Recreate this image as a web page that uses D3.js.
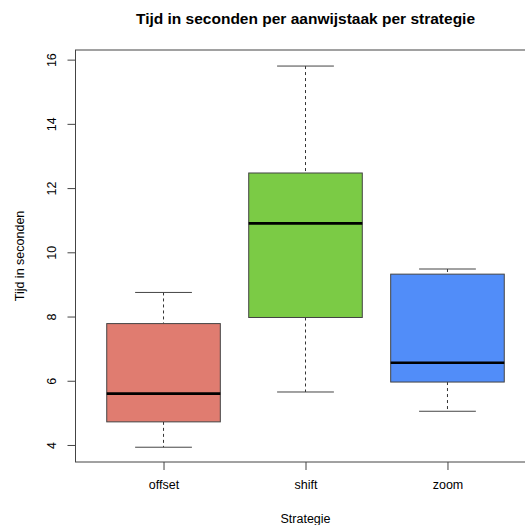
<!DOCTYPE html>
<html lang="nl">
  <head>
    <meta charset="UTF-8" />
    <title>Tijd in seconden per aanwijstaak per strategie</title>
    <style>
      body { margin: 0; background: #fff; }
      text { font-family: "Liberation Sans", Arial, Helvetica, sans-serif; fill: #000; }
    </style>
  </head>
  <body>
    <svg width="525" height="525"></svg>
    <script src="https://cdnjs.cloudflare.com/ajax/libs/d3/7.8.5/d3.min.js"></script>
    <script>
      // waarden
      const categories = ["offset", "shift", "zoom"];
      const lowWhisker = [3.93, 5.65, 5.05];
      const q1 = [4.72, 7.97, 5.96];
      const median = [5.6, 10.9, 6.56];
      const q3 = [7.78, 12.47, 9.32];
      const highWhisker = [8.75, 15.8, 9.48];
      const colors = ["#e07c70", "#7bcb45", "#518df9"];
      const yTicks = [4, 6, 8, 10, 12, 14, 16];

      const svg = d3.select("svg");
      const mLeft = 75.5, mRight = 535.5, mTop = 50, mBottom = 462;

      const x = d3.scaleLinear().domain([0.38, 3.62]).range([mLeft, mRight]);
      const y = d3.scaleLinear().domain([3.47, 16.3]).range([mBottom, mTop]);
      const boxW = x(1.4) - x(1);   // helft van boxwex 0.8
      const capW = boxW / 2;

      const data = categories.map((c, i) => ({
        name: c, pos: i + 1, lo: lowWhisker[i], q1: q1[i], med: median[i],
        q3: q3[i], hi: highWhisker[i], color: colors[i]
      }));

      const g = svg.append("g");
      const box = g.selectAll("g.box").data(data).enter().append("g").attr("class", "box");

      // snorharen
      box.append("line")
        .attr("x1", d => x(d.pos)).attr("x2", d => x(d.pos))
        .attr("y1", d => y(d.hi)).attr("y2", d => y(d.q3))
        .attr("stroke", "#333").attr("stroke-dasharray", "3,3");
      box.append("line")
        .attr("x1", d => x(d.pos)).attr("x2", d => x(d.pos))
        .attr("y1", d => y(d.q1)).attr("y2", d => y(d.lo))
        .attr("stroke", "#333").attr("stroke-dasharray", "3,3");
      box.append("line")
        .attr("x1", d => x(d.pos) - capW).attr("x2", d => x(d.pos) + capW)
        .attr("y1", d => y(d.hi)).attr("y2", d => y(d.hi))
        .attr("stroke", "#444");
      box.append("line")
        .attr("x1", d => x(d.pos) - capW).attr("x2", d => x(d.pos) + capW)
        .attr("y1", d => y(d.lo)).attr("y2", d => y(d.lo))
        .attr("stroke", "#444");

      box.append("rect")
        .attr("x", d => x(d.pos) - boxW).attr("width", 2 * boxW)
        .attr("y", d => y(d.q3)).attr("height", d => y(d.q1) - y(d.q3))
        .attr("fill", d => d.color).attr("stroke", "#444").attr("stroke-width", 1);

      box.append("line")
        .attr("x1", d => x(d.pos) - boxW).attr("x2", d => x(d.pos) + boxW)
        .attr("y1", d => y(d.med)).attr("y2", d => y(d.med))
        .attr("stroke", "#000").attr("stroke-width", 2.6);

      // kader
      svg.append("rect")
        .attr("x", mLeft).attr("y", mTop)
        .attr("width", mRight - mLeft).attr("height", mBottom - mTop)
        .attr("fill", "none").attr("stroke", "#444");

      // y-as
      const yAxis = svg.append("g")
        .attr("transform", `translate(${mLeft},0)`)
        .call(d3.axisLeft(y).tickValues(yTicks).tickSize(8).tickPadding(0));
      yAxis.select(".domain").attr("d", `M0,${y(4)}V${y(16)}`).attr("stroke", "#444");
      yAxis.selectAll(".tick line").attr("stroke", "#444");
      yAxis.selectAll(".tick text")
        .attr("x", 0).attr("dy", null)
        .attr("transform", "translate(-24,0) rotate(-90)")
        .attr("text-anchor", "middle")
        .attr("dominant-baseline", "central")
        .style("font-size", "12.5px")
        .style("font-family", "'Liberation Sans', Arial, sans-serif");

      // x-as
      const xAxis = svg.append("g")
        .attr("transform", `translate(0,${mBottom})`)
        .call(d3.axisBottom(x).tickValues([1, 2, 3]).tickSize(8).tickPadding(10)
          .tickFormat(d => categories[d - 1]));
      xAxis.select(".domain").remove();
      xAxis.selectAll(".tick line").attr("stroke", "#444");
      xAxis.selectAll(".tick text")
        .style("font-size", "12.5px")
        .style("font-family", "'Liberation Sans', Arial, sans-serif");

      svg.append("text")
        .attr("x", (mLeft + mRight) / 2).attr("y", 18)
        .attr("text-anchor", "middle").attr("dominant-baseline", "central")
        .style("font-size", "15.5px").style("font-weight", "bold")
        .text("Tijd in seconden per aanwijstaak per strategie");

      svg.append("text")
        .attr("x", (mLeft + mRight) / 2).attr("y", 519)
        .attr("text-anchor", "middle").attr("dominant-baseline", "central")
        .style("font-size", "12.5px")
        .text("Strategie");

      svg.append("text")
        .attr("transform", `translate(20,${(mTop + mBottom) / 2}) rotate(-90)`)
        .attr("text-anchor", "middle").attr("dominant-baseline", "central")
        .style("font-size", "12.5px")
        .text("Tijd in seconden");
    </script>
  </body>
</html>
